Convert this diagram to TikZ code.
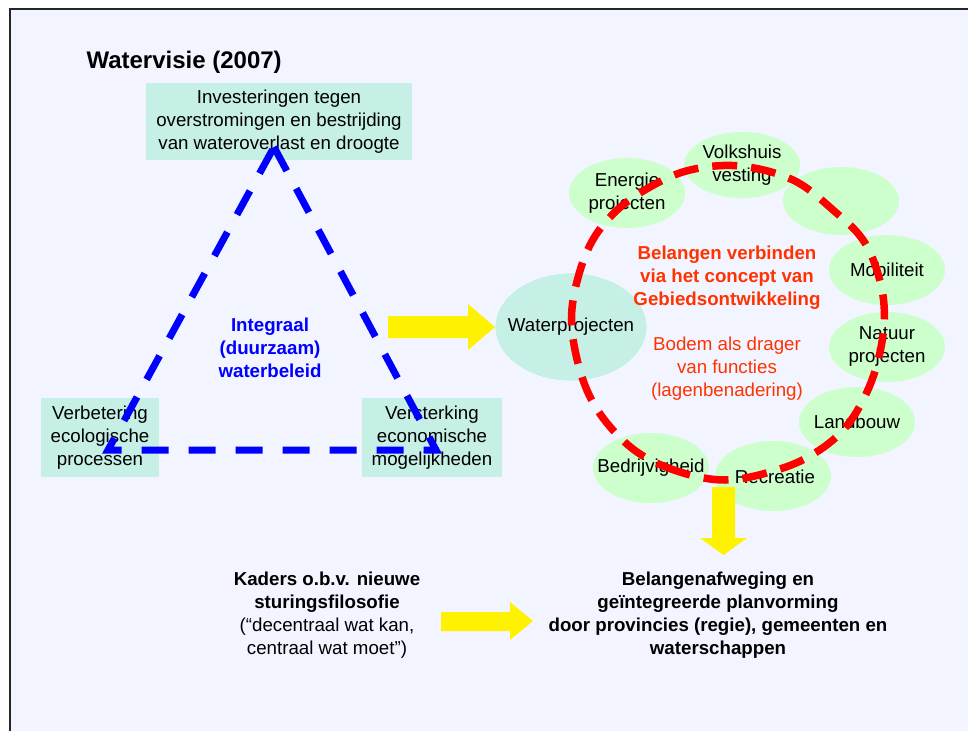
\documentclass[tikz,border=0pt]{standalone}
\usepackage{fontspec}
\setmainfont{Liberation Sans}
\usepackage{tikz}
\definecolor{slidebg}{HTML}{F2F5FF}
\definecolor{mint}{HTML}{C6EFE5}
\definecolor{bubblegreen}{HTML}{CCFFCC}
\definecolor{orangered}{HTML}{FF3300}
\newcommand{\slidefont}{\fontsize{18.7}{23}\selectfont}
\tikzset{mintbox/.style={fill=mint, inner sep=0pt, align=center, font=\slidefont},
	bubble/.style={fill=bubblegreen},
	bubbletext/.style={align=center, font=\slidefont},
	bluedash/.style={blue, line width=7pt, dash pattern=on 27pt off 20pt},
	reddash/.style={red, line width=7.5pt, dash pattern=on 25pt off 14pt},
	blockarrow/.style={fill=yellow}}

\begin{document}
\begin{tikzpicture}[x=1pt, y=-1pt]
	
	\useasboundingbox (0,0) rectangle (968,731);
	\fill [white] (0,0) rectangle (968,731);
	\fill [slidebg] (10,9) rectangle (968,731);
	\draw [line width=2pt, black!85] (10,731) -- (10,9) -- (968,9);
	
	\node [anchor=base west, font=\fontsize{24}{28}\selectfont\bfseries] (title) at (83,68) {Watervisie (2007)};
	
	% driehoek
	\node [mintbox, minimum width=266pt, minimum height=77pt] (invest) at (279,121.5) {Investeringen tegen\\overstromingen en bestrijding\\van wateroverlast en droogte};
	\node [mintbox, minimum width=118pt, minimum height=79pt] (ecol) at (100,437.5) {Verbetering\\ecologische\\processen};
	\node [mintbox, minimum width=140pt, minimum height=79pt] (econ) at (432,437.5) {Versterking\\economische\\mogelijkheden};
	
	\coordinate (top) at (274,147);
	\coordinate (right) at (436,450);
	\coordinate (left) at (108,450);
	\draw [bluedash] (top) -- (right) -- (left) -- cycle;
	
	\node [font=\slidefont\bfseries, text=blue, align=center] (beleid) at (270,348) {Integraal\\(duurzaam)\\waterbeleid};
	
	% gebiedsontwikkeling
	\filldraw [fill=mint, draw=white, thin] (571,327) ellipse [x radius=76, y radius=54];
	\fill [bubble] (627,193) ellipse [x radius=58, y radius=35];
	\fill [bubble] (742,165) ellipse [x radius=58, y radius=33];
	\fill [bubble] (841,201) ellipse [x radius=58, y radius=34];
	\fill [bubble] (887,270) ellipse [x radius=58, y radius=35];
	\fill [bubble] (887,347) ellipse [x radius=58, y radius=35];
	\fill [bubble] (857,422) ellipse [x radius=58, y radius=35];
	\fill [bubble] (773,476) ellipse [x radius=58, y radius=35];
	\fill [bubble] (651,468) ellipse [x radius=58, y radius=35];
	
	\node [bubbletext] (water) at (571,327) {Waterprojecten};
	\node [bubbletext] (energie) at (627,193) {Energie\\projecten};
	\node [bubbletext] (volks) at (742,165) {Volkshuis\\vesting};
	\node [bubbletext] (mobiel) at (887,270) {Mobiliteit};
	\node [bubbletext] (natuur) at (887,347) {Natuur\\projecten};
	\node [bubbletext] (landbouw) at (857,422) {Landbouw};
	\node [bubbletext] (recreatie) at (775,477) {Recreatie};
	\node [bubbletext] (bedrijf) at (651,468) {Bedrijvigheid};
	
	\draw [reddash] plot [smooth cycle, tension=.6] coordinates {(725,480) (680,472) (637,452) (603,418) (583,380) (572,330) (575,290) (590,245) (615,212) (650,187) (690,170) (740,166) (793,180) (833,210) (865,243) (882,290) (883,335) (870,385) (845,428) (810,456) (770,472)};
	
	\node [font=\slidefont\bfseries, text=orangered, align=center] (verbinden) at (727,278) {Belangen verbinden\\via het concept van\\Gebiedsontwikkeling};
	\node [font=\slidefont, text=orangered, align=center] (bodem) at (727,369) {Bodem als drager\\van functies\\(lagenbenadering)};
	
	% onderkant
	\node [font=\slidefont, align=center] (kaders) at (327,615) {\textbf{Kaders o.b.v. nieuwe}\\\textbf{sturingsfilosofie}\\(“decentraal wat kan,\\centraal wat moet”)};
	\node [font=\slidefont\bfseries, align=center] (afweging) at (718,615) {Belangenafweging en\\geïntegreerde planvorming\\door provincies (regie), gemeenten en\\waterschappen};
	
	% gele pijlen
	\fill [blockarrow] (388,316) -- (468,316) -- (468,304) -- (495,327) -- (468,350) -- (468,338) -- (388,338) -- cycle;
	\fill [blockarrow] (712,487) -- (735,487) -- (735,538) -- (747,538) -- (723.5,555) -- (700,538) -- (712,538) -- cycle;
	\fill [blockarrow] (441,612) -- (510,612) -- (510,602) -- (533,621) -- (510,640) -- (510,631) -- (441,631) -- cycle;
	
\end{tikzpicture}
\end{document}
